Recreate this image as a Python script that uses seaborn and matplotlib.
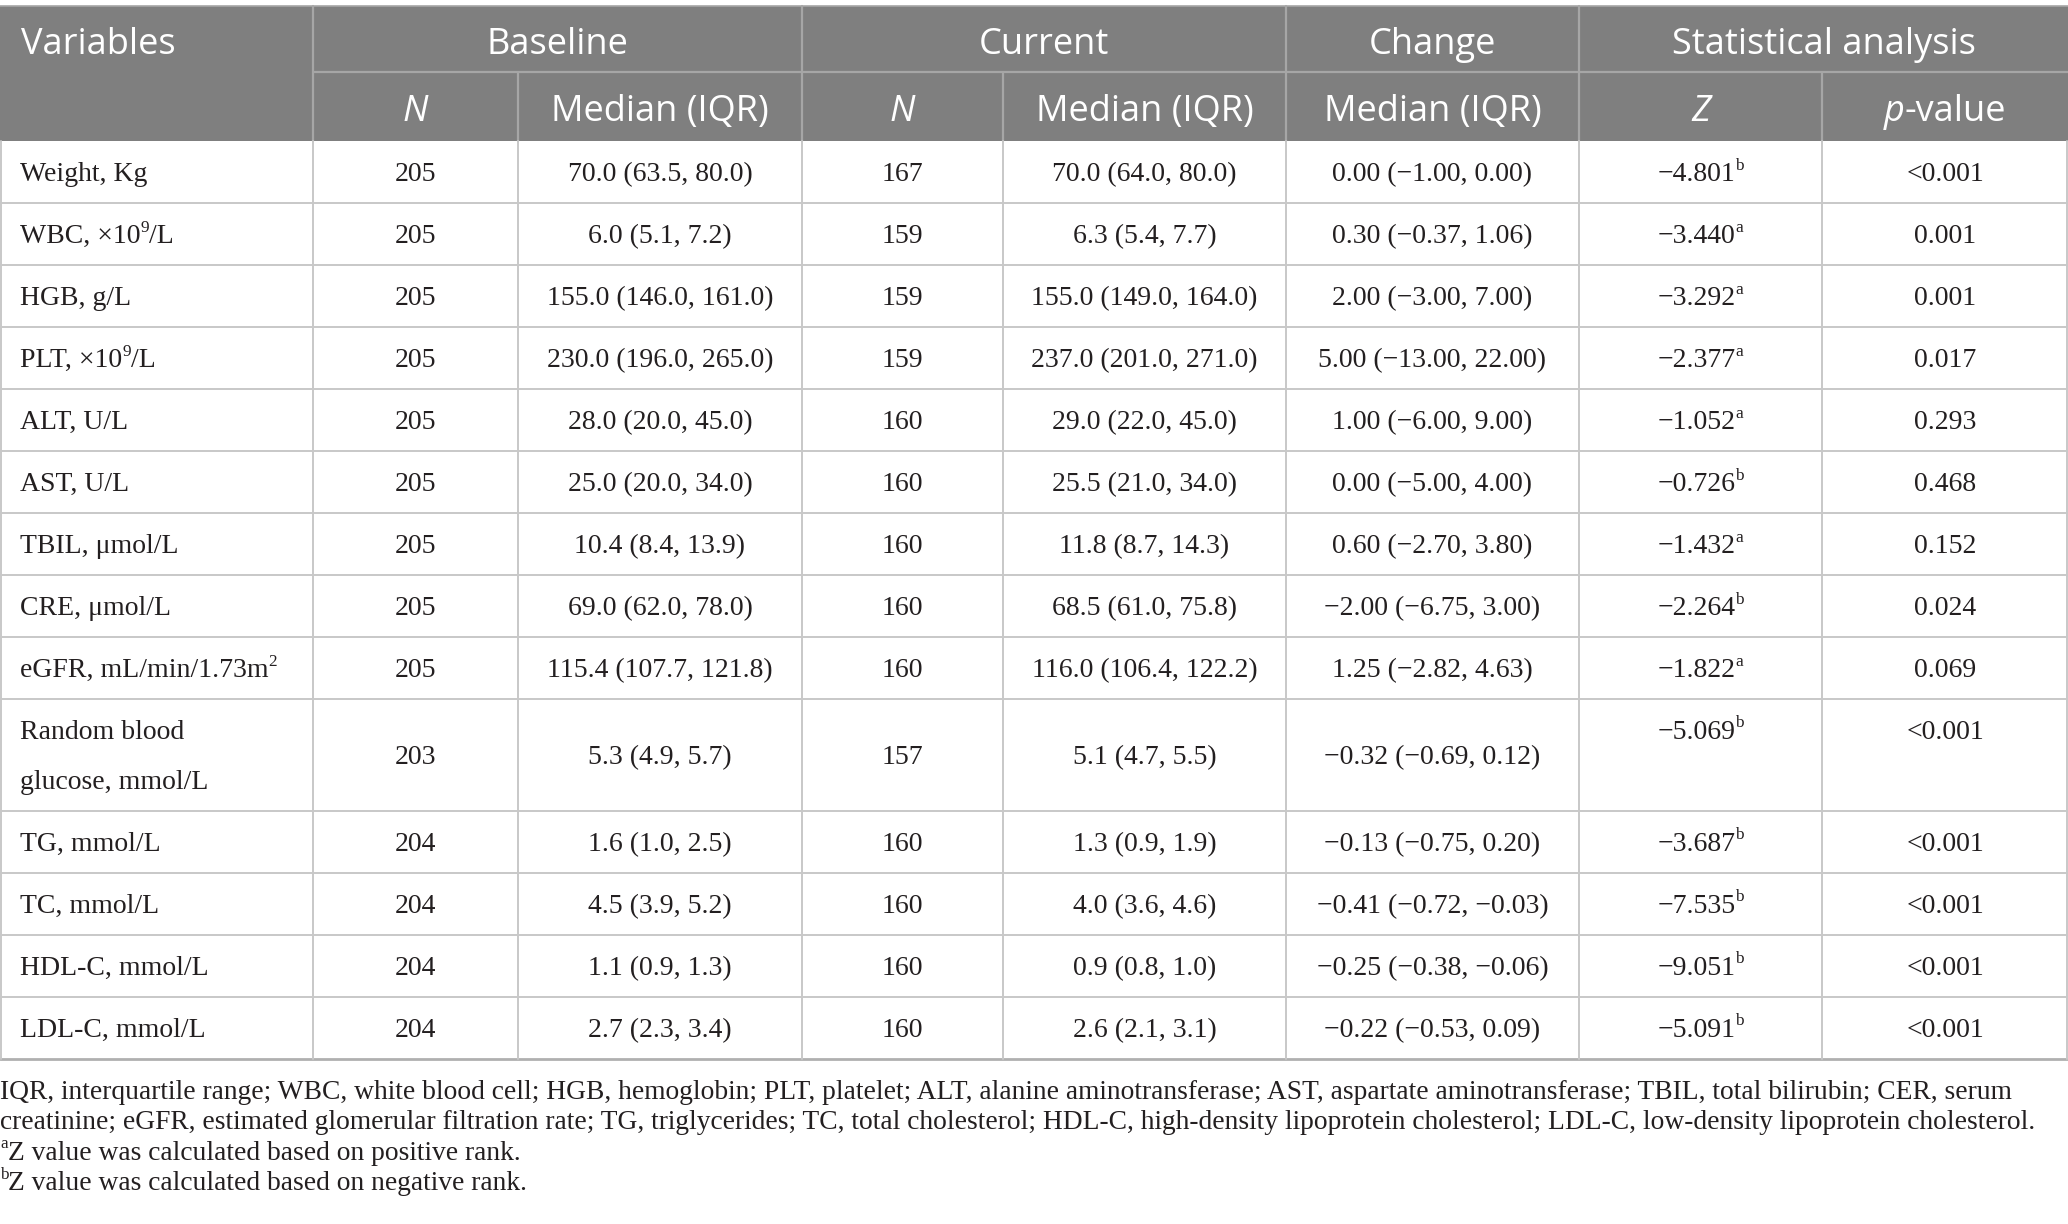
import re
import matplotlib
matplotlib.use("Agg")
import matplotlib.pyplot as plt
import seaborn as sns

sns.set_theme(style="white")
plt.rcParams["font.family"] = ["Liberation Serif", "DejaVu Serif"]

# ---- table data ----
variables = ["Weight, Kg", "WBC, ×10^{9}/L", "HGB, g/L", "PLT, ×10^{9}/L", "ALT, U/L",
             "AST, U/L", "TBIL, μmol/L", "CRE, μmol/L", "eGFR, mL/min/1.73m^{2}",
             "Random blood\nglucose, mmol/L", "TG, mmol/L", "TC, mmol/L",
             "HDL-C, mmol/L", "LDL-C, mmol/L"]
base_n = [205, 205, 205, 205, 205, 205, 205, 205, 205, 203, 204, 204, 204, 204]
base_med = ["70.0 (63.5, 80.0)", "6.0 (5.1, 7.2)", "155.0 (146.0, 161.0)",
            "230.0 (196.0, 265.0)", "28.0 (20.0, 45.0)", "25.0 (20.0, 34.0)",
            "10.4 (8.4, 13.9)", "69.0 (62.0, 78.0)", "115.4 (107.7, 121.8)",
            "5.3 (4.9, 5.7)", "1.6 (1.0, 2.5)", "4.5 (3.9, 5.2)", "1.1 (0.9, 1.3)",
            "2.7 (2.3, 3.4)"]
cur_n = [167, 159, 159, 159, 160, 160, 160, 160, 160, 157, 160, 160, 160, 160]
cur_med = ["70.0 (64.0, 80.0)", "6.3 (5.4, 7.7)", "155.0 (149.0, 164.0)",
           "237.0 (201.0, 271.0)", "29.0 (22.0, 45.0)", "25.5 (21.0, 34.0)",
           "11.8 (8.7, 14.3)", "68.5 (61.0, 75.8)", "116.0 (106.4, 122.2)",
           "5.1 (4.7, 5.5)", "1.3 (0.9, 1.9)", "4.0 (3.6, 4.6)", "0.9 (0.8, 1.0)",
           "2.6 (2.1, 3.1)"]
change_med = ["0.00 (−1.00, 0.00)", "0.30 (−0.37, 1.06)", "2.00 (−3.00, 7.00)",
              "5.00 (−13.00, 22.00)", "1.00 (−6.00, 9.00)", "0.00 (−5.00, 4.00)",
              "0.60 (−2.70, 3.80)", "−2.00 (−6.75, 3.00)", "1.25 (−2.82, 4.63)",
              "−0.32 (−0.69, 0.12)", "−0.13 (−0.75, 0.20)", "−0.41 (−0.72, −0.03)",
              "−0.25 (−0.38, −0.06)", "−0.22 (−0.53, 0.09)"]
z_values = ["−4.801", "−3.440", "−3.292", "−2.377", "−1.052", "−0.726", "−1.432",
            "−2.264", "−1.822", "−5.069", "−3.687", "−7.535", "−9.051", "−5.091"]
z_rank = ["b", "a", "a", "a", "a", "b", "a", "b", "a", "b", "b", "b", "b", "b"]
p_values = ["<0.001", "0.001", "0.001", "0.017", "0.293", "0.468", "0.152", "0.024",
            "0.069", "<0.001", "<0.001", "<0.001", "<0.001", "<0.001"]

groups = ["Baseline", "Current", "Change", "Statistical analysis"]
subheads = ["*N*", "Median (IQR)", "*N*", "Median (IQR)", "Median (IQR)", "*Z*", "*p*-value"]
footnotes = [
    "IQR, interquartile range; WBC, white blood cell; HGB, hemoglobin; PLT, platelet; ALT, "
    "alanine aminotransferase; AST, aspartate aminotransferase; TBIL, total bilirubin; CER, serum",
    "creatinine; eGFR, estimated glomerular filtration rate; TG, triglycerides; TC, total "
    "cholesterol; HDL-C, high-density lipoprotein cholesterol; LDL-C, low-density lipoprotein cholesterol.",
    "^{a}Z value was calculated based on positive rank.",
    "^{b}Z value was calculated based on negative rank.",
]

# ---- layout (pixels) ----
W, H = 2068, 1224
col_x = [0, 313, 518, 802, 1003, 1286, 1579, 1822, 2068]
group_span = [(1, 3), (3, 5), (5, 6), (6, 8)]
top, h1, h2 = 6, 72, 141
unit = 62.0
row_units = [1.8 if "\n" in v else 1 for v in variables]
HEAD_BG = "#7f7f7f"
HEAD_LINE = "#a6a6a6"
GRID = "#c8c8c8"

fig = plt.figure(figsize=(W / 100, H / 100), dpi=100)
ax = fig.add_axes([0, 0, 1, 1])
ax.set_xlim(0, W)
ax.set_ylim(H, 0)
ax.axis("off")
fig.canvas.draw()
renderer = fig.canvas.get_renderer()

PX = 100 / 72  # pixels per point
sans = ["Open Sans", "DejaVu Sans"]
serif = ["Liberation Serif", "DejaVu Serif"]


def parse(s):
    out = []
    for tok in re.split(r"(\^\{[^}]*\}|\*[^*]*\*)", s):
        if not tok:
            continue
        if tok.startswith("^{"):
            out.append((tok[2:-1], "sup"))
        elif tok.startswith("*"):
            out.append((tok[1:-1], "italic"))
        else:
            out.append((tok, "normal"))
    return out


def put(x, yc, s, size, family, color="#231f20", ha="center"):
    parts = parse(s)
    widths = []
    for txt, kind in parts:
        sz = size * 0.62 if kind == "sup" else size
        st = "italic" if kind == "italic" else "normal"
        t = ax.text(0, 0, txt, fontsize=sz, family=family, style=st)
        widths.append(t.get_window_extent(renderer).width)
        t.remove()
    total = sum(widths)
    x0 = x - total / 2 if ha == "center" else x
    cap = 0.35 if family is sans else 0.33
    base = yc + cap * size * PX
    for (txt, kind), w in zip(parts, widths):
        sz = size * 0.62 if kind == "sup" else size
        st = "italic" if kind == "italic" else "normal"
        yb = base - 0.42 * size * PX if kind == "sup" else base
        ax.text(x0, yb, txt, fontsize=sz, family=family, style=st, color=color,
                ha="left", va="baseline")
        x0 += w


HS, BS, FS = 26, 20, 19.8

# header background and lines
ax.fill_between([0, W], top, h2, color=HEAD_BG, lw=0)
ax.plot([col_x[1], W], [h1, h1], color=HEAD_LINE, lw=1.6)
for i, x in enumerate(col_x[1:-1], start=1):
    start = h1 if i in (2, 4, 7) else top
    ax.plot([x, x], [start, h2], color=HEAD_LINE, lw=1.6)
ax.plot([0, W], [top, top], color=HEAD_LINE, lw=1.2)

hy1 = (top + h1) / 2 + 2
hy2 = (h1 + h2) / 2 + 2
put(21, hy1, "Variables", HS, sans, "white", ha="left")
for g, (a, b) in zip(groups, group_span):
    put((col_x[a] + col_x[b]) / 2, hy1, g, HS, sans, "white")
for j, s in enumerate(subheads):
    put((col_x[j + 1] + col_x[j + 2]) / 2, hy2, s, HS, sans, "white")

# body rows
y = h2
for i, var in enumerate(variables):
    hgt = row_units[i] * unit
    yc = y + hgt / 2
    if "\n" in var:
        l1, l2 = var.split("\n")
        put(20, yc - 25, l1, BS, serif, ha="left")
        put(20, yc + 25, l2, BS, serif, ha="left")
        ytop = yc - 25
    else:
        put(20, yc, var, BS, serif, ha="left")
        ytop = yc
    cells = [str(base_n[i]), base_med[i], str(cur_n[i]), cur_med[i], change_med[i]]
    for j, c in enumerate(cells):
        put((col_x[j + 1] + col_x[j + 2]) / 2, yc, c, BS, serif)
    put((col_x[6] + col_x[7]) / 2, ytop, z_values[i] + "^{" + z_rank[i] + "}", BS, serif)
    put((col_x[7] + col_x[8]) / 2, ytop, p_values[i], BS, serif)
    y += hgt
    last = i == len(variables) - 1
    ax.plot([0, W], [y, y], color="#b0b0b0" if last else GRID, lw=2.0 if last else 1.4)

for x in col_x[:-1] + [W - 1]:
    ax.plot([max(x, 1), max(x, 1)], [h2, y], color=GRID, lw=1.4)

# footnotes
for k, line in enumerate(footnotes):
    put(0, y + 31 + 30.5 * k, line, FS, serif, ha="left")

fig.savefig("out.png", dpi=100)
